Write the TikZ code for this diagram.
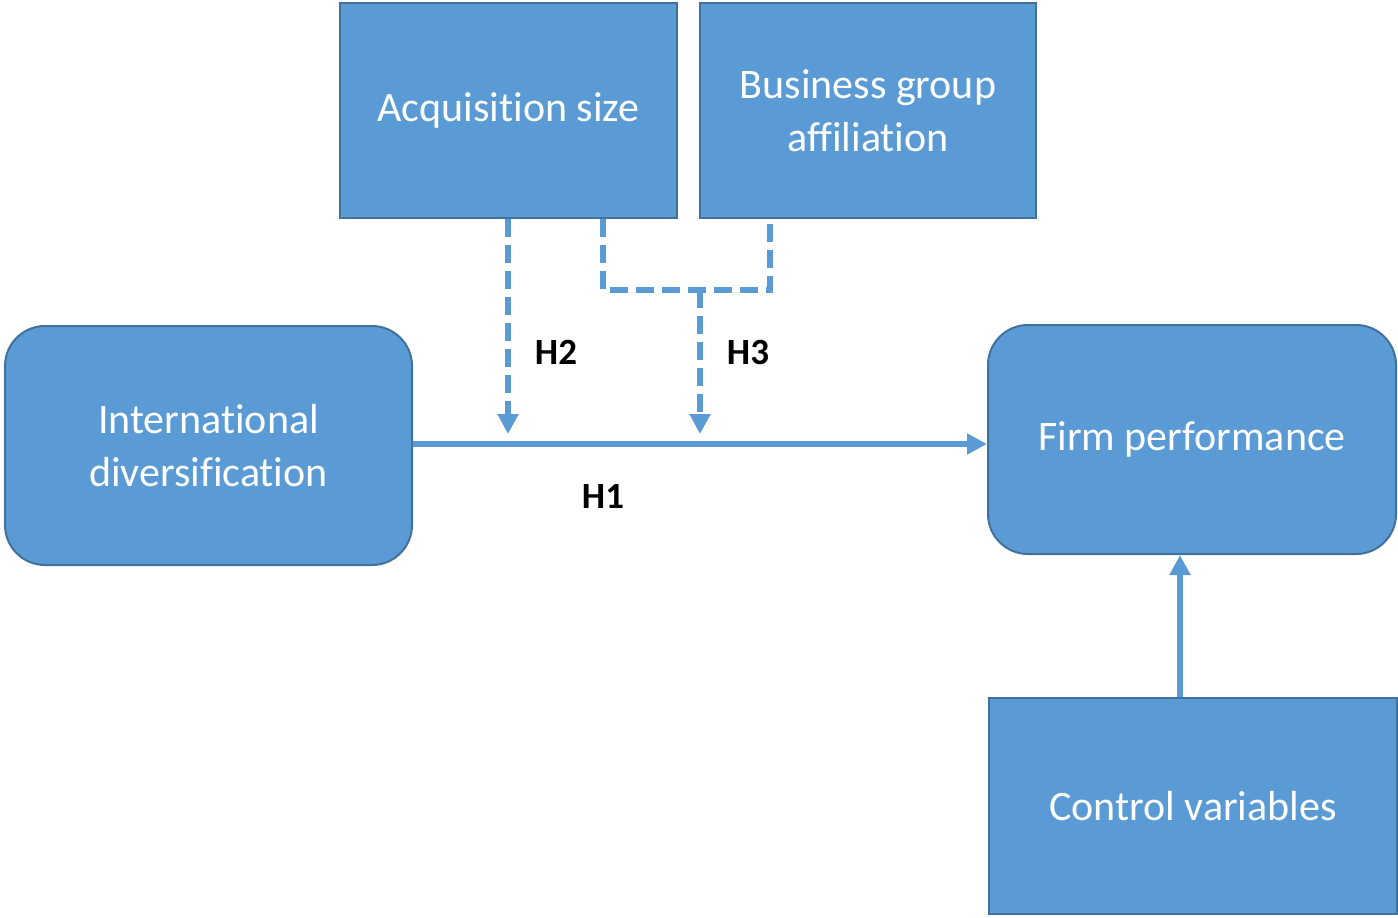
\documentclass[tikz,border=0pt]{standalone}
\usepackage{fontspec}
\setmainfont{Carlito}[Ligatures=CommonOff]
\usetikzlibrary{arrows.meta}
\definecolor{boxfill}{HTML}{5B9BD5}
\definecolor{boxline}{HTML}{41719C}
\definecolor{conn}{HTML}{5B9BD5}
\begin{document}
\begin{tikzpicture}[x=0.5pt,y=-0.5pt,
  box/.style={draw=boxline,line width=1pt,fill=boxfill,text=white,inner sep=0pt,
    align=center,font=\fontsize{21}{26.5}\selectfont},
  rbox/.style={box,rounded corners=20pt},
  arr/.style={draw=conn,line width=3pt,-{Triangle[length=10pt,width=10pt]}},
  dline/.style={draw=conn,line width=3pt,dash pattern=on 9pt off 4pt},
  darr/.style={dline,-{Triangle[length=10pt,width=10pt]}},
  hlab/.style={font=\fontsize{18.5}{22}\selectfont\bfseries,text=black,inner sep=0pt}]
\useasboundingbox (0,0) rectangle (1398,917);
\node[box,minimum width=168.5pt,minimum height=107.5pt] (acq) at (508.5,110.5) {Acquisition size};
\node[box,minimum width=168pt,minimum height=107.5pt] (bga) at (868,110.5) {Business group\\affiliation};
\node[rbox,minimum width=203.5pt,minimum height=119.5pt] (id) at (208.5,445.5) {International\\diversification};
\node[rbox,minimum width=204pt,minimum height=114.5pt] (fp) at (1192,439.5) {Firm performance};
\node[box,minimum width=204pt,minimum height=108pt] (cv) at (1193,806) {Control variables};
\coordinate (h2end) at (508,434);
\coordinate (h3end) at (700,434);
\coordinate (jl) at (603,290);
\coordinate (jr) at (770,290);
\coordinate (jm) at (700,290);
\draw[arr] (id.east |- 0,444) -- (fp.west |- 0,444);
\draw[darr] (acq.south -| h2end) -- (h2end);
\draw[dline] (acq.south -| jl) -- (jl) -- (jr) -- (bga.south -| jr);
\draw[darr] (jm) -- (h3end);
\draw[arr] (cv.north -| 1180,0) -- (fp.south -| 1180,0);
\node[hlab] (l2) at (556,352) {H2};
\node[hlab] (l3) at (748,352) {H3};
\node[hlab] (l1) at (603,496) {H1};
\end{tikzpicture}
\end{document}
